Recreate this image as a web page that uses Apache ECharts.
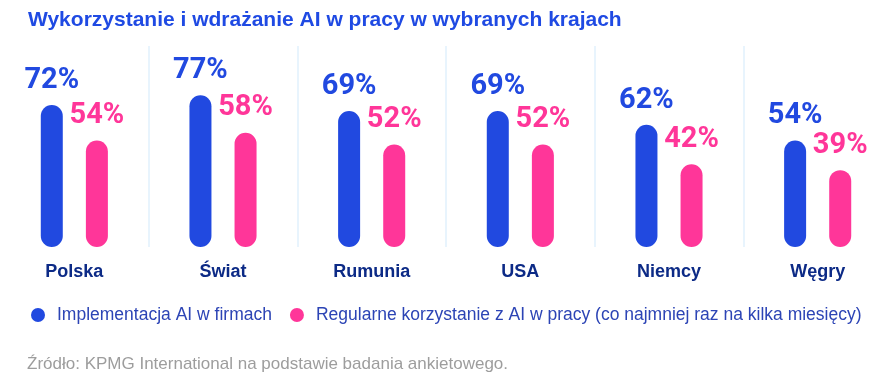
<!DOCTYPE html>
<html><head><meta charset="utf-8">
<script src="https://cdn.jsdelivr.net/npm/echarts@6/dist/echarts.min.js"></script>
<style>html,body{margin:0;padding:0;background:#fff}#c{width:892px;height:378px}</style>
</head><body><div id="c"></div>
<script>
const categories = ['Polska', 'Świat', 'Rumunia', 'USA', 'Niemcy', 'Węgry'];
const implementacja = [72, 77, 69, 69, 62, 54];
const korzystanie = [54, 58, 52, 52, 42, 39];
const seriesNames = ['Implementacja AI w firmach', 'Regularne korzystanie z AI w pracy (co najmniej raz na kilka miesięcy)'];
const titleText = 'Wykorzystanie i wdrażanie AI w pracy w wybranych krajach';
const sourceText = 'Źródło: KPMG International na podstawie badania ankietowego.';

const BLUE = '#2149e0', PINK = '#ff3699', SEP = '#e0f1fc';
const sans = "'Liberation Sans',Arial,sans-serif";
const chart = echarts.init(document.getElementById('c'));
const valLabel = (color) => ({
  show: true, position: 'top', distance: 10,
  formatter: '{c}%', color: color, fontFamily: "Roboto,sans-serif", fontWeight: 'bold', fontSize: 29
});
chart.setOption({
  animation: false,
  title: [
    {text: titleText, left: 23, top: 5,
     textStyle: {color: '#1f4ae3', fontSize: 21, fontWeight: 'bold', fontFamily: sans}},
    {text: sourceText, left: 22, top: 351,
     textStyle: {color: '#9d9d9d', fontSize: 17, fontWeight: 'normal', fontFamily: sans}}
  ],
  legend: {
    left: 31, top: 306, padding: 0, width: 880, itemWidth: 28, itemHeight: 14, itemGap: 18, icon: 'circle',
    textStyle: {color: '#2c44b5', fontSize: 17.5, fontFamily: sans},
    data: seriesNames
  },
  grid: {left: 0, right: 0, top: 46, bottom: 131},
  xAxis: {
    type: 'category', data: categories,
    axisLine: {show: false}, axisTick: {show: false},
    axisLabel: {margin: 16, color: '#0c2a86', fontSize: 18, fontWeight: 'bold', fontFamily: sans},
    splitLine: {show: true,
      lineStyle: {color: ['rgba(0,0,0,0)', SEP, SEP, SEP, SEP, SEP, 'rgba(0,0,0,0)'], width: 1.5}}
  },
  yAxis: {type: 'value', min: 0, max: 102, show: false, splitLine: {show: false}},
  series: [
    {name: seriesNames[0], type: 'bar', data: implementacja, barWidth: 22, barGap: '105%',
     itemStyle: {color: BLUE, borderRadius: 11}, label: valLabel(BLUE)},
    {name: seriesNames[1], type: 'bar', data: korzystanie, barWidth: 22,
     itemStyle: {color: PINK, borderRadius: 11}, label: valLabel(PINK)}
  ]
});
</script></body></html>
